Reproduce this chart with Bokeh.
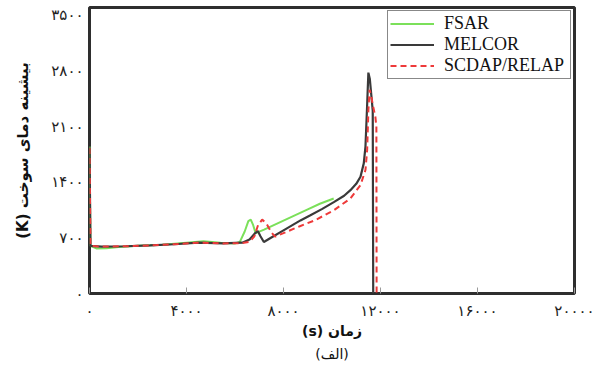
from bokeh.plotting import figure
from bokeh.models import Legend, LegendItem, FixedTicker, Title
from bokeh.embed import file_html
from bokeh.resources import INLINE

# Peak fuel temperature (K) against time (s) for three codes
fsar_t = [0, 40, 300, 700, 1200, 2000, 3000, 4000, 4700, 5400, 6000, 6200, 6400,
          6550, 6650, 6750, 6850, 7200, 7800, 8400, 9000, 9500, 10070]
fsar_T = [1850, 600, 565, 570, 585, 600, 615, 640, 657, 640, 630, 650, 780,
          910, 930, 860, 760, 805, 890, 975, 1060, 1130, 1196]

melcor_t = [0, 40, 500, 1500, 2500, 3500, 4500, 5500, 6300, 6600, 6800, 6940,
            7050, 7190, 7500, 8000, 8700, 9110, 9600, 10075, 10500, 10760, 11000,
            11175, 11310, 11380, 11440, 11500, 11560, 11620, 11680, 11700]
melcor_T = [1830, 600, 590, 595, 605, 620, 640, 630, 640, 680, 750, 787,
            720, 648, 705, 795, 920, 985, 1065, 1150, 1230, 1301, 1380,
            1469, 1638, 1848, 2300, 2780, 2700, 2500, 2300, 0]

relap_t = [0, 40, 500, 1500, 2500, 3500, 4500, 5500, 6300, 6600, 6800, 6950,
           7120, 7300, 7490, 7650, 8000, 8700, 9320, 10075, 10760, 11175, 11380,
           11450, 11500, 11550, 11620, 11700, 11790, 11830, 11840]
relap_T = [1830, 600, 590, 595, 605, 620, 640, 630, 635, 650, 720, 860,
           931, 880, 775, 715, 760, 850, 925, 1048, 1196, 1364, 1554,
           1806, 2300, 2564, 2480, 2350, 2220, 2100, 0]

series_names = ["FSAR", "MELCOR", "SCDAP/RELAP"]

x_ticks = [0, 4000, 8000, 12000, 16000, 20000]
x_tick_labels = ["۰", "۴۰۰۰", "۸۰۰۰", "۱۲۰۰۰", "۱۶۰۰۰", "۲۰۰۰۰"]
y_ticks = [0, 700, 1400, 2100, 2800, 3500]
y_tick_labels = ["۰", "۷۰۰", "۱۴۰۰", "۲۱۰۰", "۲۸۰۰", "۳۵۰۰"]

persian_font = "DejaVu Sans"
FIG_SPACE = "\u2007"  # digit-wide space, pads y labels to a common width


def pad_left(s, n=4):
    return FIG_SPACE * (n - len(s)) + s


p = figure(width=613, height=379, output_backend="svg", toolbar_location=None,
           x_range=(0, 20000), y_range=(0, 3600),
           min_border_left=89, min_border_right=39, min_border_top=7,
           min_border_bottom=86)
p.background_fill_color = "white"
p.border_fill_color = "white"
p.outline_line_color = "#2e2e2e"
p.outline_line_width = 3
p.grid.visible = False

# x axis: small inward ticks, Persian digits
xa = p.xaxis[0]
xa.ticker = FixedTicker(ticks=x_ticks)
xa.major_label_overrides = dict(zip(x_ticks, x_tick_labels))
xa.major_label_text_font = persian_font
xa.major_label_text_font_size = "15px"
xa.major_label_text_color = "#222222"
xa.major_label_standoff = 8
xa.axis_line_color = None
xa.major_tick_in = 6
xa.major_tick_out = 0
xa.major_tick_line_color = "#9a9a9a"
xa.minor_tick_line_color = None
xa.axis_label = "(s) زمان"
xa.axis_label_text_font = persian_font
xa.axis_label_text_font_style = "bold"
xa.axis_label_text_font_size = "14px"
xa.axis_label_text_color = "#111111"
xa.axis_label_standoff = 0

ya = p.yaxis[0]
ya.ticker = FixedTicker(ticks=y_ticks)
ya.major_label_overrides = {t: pad_left(s) for t, s in zip(y_ticks, y_tick_labels)}
ya.major_label_text_font = persian_font
ya.major_label_text_font_size = "15px"
ya.major_label_text_color = "#222222"
ya.major_label_standoff = 0
ya.axis_line_color = None
ya.major_tick_line_color = None
ya.minor_tick_line_color = None
ya.axis_label = "(K) بیشینه دمای سوخت"
ya.axis_label_text_font = persian_font
ya.axis_label_text_font_style = "bold"
ya.axis_label_text_font_size = "15px"
ya.axis_label_text_color = "#111111"
ya.axis_label_standoff = 12

r_fsar = p.line(fsar_t, fsar_T, line_color="#7be05a", line_width=2)
r_melcor = p.line(melcor_t, melcor_T, line_color="#3a3a3a", line_width=2.2)
r_relap = p.line(relap_t, relap_T, line_color="#ee3a3a", line_width=2,
                 line_dash="6 4")

legend = Legend(items=[LegendItem(label=n, renderers=[r])
                       for n, r in zip(series_names, [r_fsar, r_melcor, r_relap])],
                location="top_right")
legend.label_text_font = "Liberation Serif"
legend.label_text_font_size = "18px"
legend.label_text_color = "#111111"
legend.glyph_width = 44
legend.glyph_height = 19
legend.label_height = 19
legend.label_width = 124
legend.spacing = 0
legend.padding = 2
legend.margin = 3
legend.label_standoff = 10
legend.border_line_color = "#111111"
legend.border_line_width = 1
legend.background_fill_alpha = 1
p.add_layout(legend)

caption = Title(text="(الف)", align="center", text_font=persian_font,
                text_font_size="14px", text_font_style="normal",
                text_color="#111111", standoff=4)
p.add_layout(caption, "below")

open("out.html", "w").write(file_html(p, INLINE))
